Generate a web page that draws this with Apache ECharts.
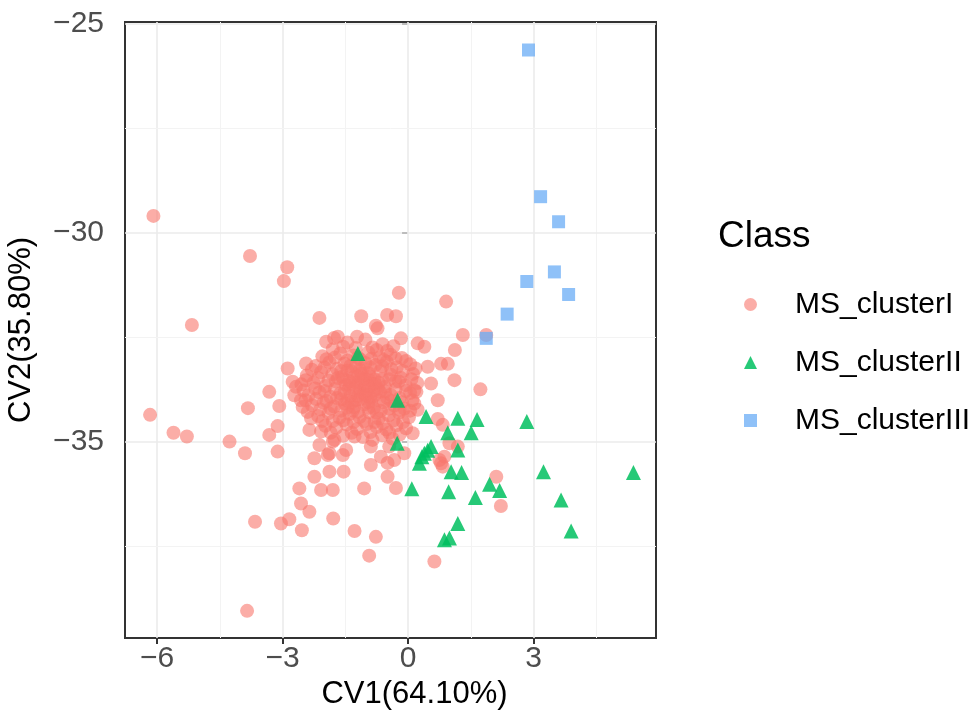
<!DOCTYPE html>
<html>
<head>
<meta charset="utf-8">
<script src="https://cdn.jsdelivr.net/npm/echarts@6/dist/echarts.min.js"></script>
<style>
html,body{margin:0;padding:0;background:#fff;}
#chart{width:977px;height:717px;}
</style>
</head>
<body>
<div id="chart"></div>
<script>
// ---- data ----
const seriesNames = ['MS_clusterI', 'MS_clusterII', 'MS_clusterIII'];
const xTicks = [-6, -3, 0, 3];
const yTicks = [-35, -30, -25];
const xMajorGrid = [-6, -3, 0, 3];
const xMinorGrid = [-4.5, -1.5, 1.5, 4.5];
const yMajorGrid = [-35, -30, -25];
const yMinorGrid = [-37.5, -32.5, -27.5];

// MS_clusterI: scattered points around the dense core
const clusterIOuter = [
  [-6.09,-29.59],[-3.78,-30.55],[-2.89,-30.82],[-2.97,-31.15],[-0.22,-31.43],[-5.17,-32.20],
  [-2.12,-32.03],[-1.12,-31.99],[-0.50,-31.96],[-0.29,-31.99],[-0.77,-32.22],[0.91,-31.64],
  [1.31,-32.44],[1.87,-32.44],[1.12,-32.80],[0.79,-33.13],[0.95,-33.13],[1.11,-33.52],
  [1.73,-33.74],[0.71,-34.00],[2.11,-35.83],[2.22,-36.53],[0.63,-37.86],[0.83,-34.59],
  [0.75,-35.43],[1.19,-35.11],[-0.29,-36.10],[-0.49,-35.83],[0.79,-35.51],[0.87,-35.35],
  [0.71,-34.45],[0.83,-35.59],[0.99,-35.03],
  [-6.17,-34.35],[-5.61,-34.78],[-5.29,-34.87],[-4.27,-34.99],[-3.90,-35.27],[-3.83,-34.19],
  [-3.32,-33.80],[-3.08,-34.14],[-3.12,-34.62],[-3.32,-34.83],[-3.12,-35.23],[-2.88,-33.24],
  [-2.68,-33.68],[-2.56,-34.00],[-2.36,-34.71],[-2.12,-35.07],[-2.24,-35.39],[-1.88,-35.71],
  [-1.54,-35.71],[-2.24,-35.83],[-2.60,-36.11],[-2.08,-36.15],[-1.80,-36.15],[-1.05,-36.11],
  [-0.89,-35.55],[-2.56,-36.47],[-2.36,-36.67],[-3.66,-36.91],[-3.04,-36.95],[-2.84,-36.85],
  [-2.54,-37.11],[-1.79,-36.83],[-1.28,-37.13],[-0.77,-37.27],[-0.93,-37.72],[-3.85,-39.04],
  [-1.68,-32.48],[-1.96,-32.60],[-1.22,-32.48],[-2.44,-33.12],[0.39,-32.72],[0.23,-32.64],
  [-0.17,-32.52],[-1.88,-35.27],[-1.56,-35.31],[-1.80,-34.99],[-1.48,-35.19],[-1.77,-32.51],
  [-0.73,-32.28],[-2.76,-33.56],[-2.72,-33.88],[-2.52,-34.16],[-2.32,-34.43],[-2.08,-34.75],
  [-1.76,-34.95],[-1.92,-35.31],[-1.28,-34.87],[-0.89,-35.11],[-0.65,-35.35],[-0.33,-35.43],
  [0.47,-33.20],[0.55,-33.60],[0.15,-33.76],[0.23,-34.23],[0.11,-34.79],[-0.09,-35.27],
  [-0.45,-35.11],[-0.49,-35.50]
];
// MS_clusterI: dense core
const clusterICore = [
  [-1.45,-32.62],[-1.02,-32.55],[-0.61,-32.66],[-0.35,-32.71],[-1.80,-32.78],[-0.85,-32.74],
  [-2.05,-32.95],[-1.62,-32.88],[-1.31,-32.93],[-0.95,-32.86],[-0.68,-32.97],[-0.42,-32.91],
  [-0.15,-32.99],[-1.15,-33.02],
  [-2.21,-33.18],[-1.88,-33.09],[-1.52,-33.12],[-1.25,-33.20],[-1.02,-33.11],[-0.78,-33.16],
  [-0.51,-33.08],[-0.27,-33.21],[0.05,-33.14],[-1.70,-33.25],
  [-2.42,-33.41],[-2.08,-33.33],[-1.81,-33.38],[-1.58,-33.44],[-1.36,-33.31],[-1.12,-33.36],
  [-0.91,-33.43],[-0.66,-33.30],[-0.41,-33.39],[-0.18,-33.46],[0.12,-33.37],[-1.45,-33.29],
  [-0.80,-33.50],
  [-2.55,-33.62],[-2.26,-33.58],[-1.97,-33.66],[-1.73,-33.55],[-1.49,-33.63],[-1.26,-33.57],
  [-1.03,-33.66],[-0.79,-33.60],[-0.55,-33.68],[-0.30,-33.56],[-0.06,-33.64],[0.22,-33.59],
  [-1.15,-33.75],[-0.92,-33.52],
  [-2.38,-33.88],[-2.12,-33.81],[-1.86,-33.92],[-1.62,-33.84],[-1.38,-33.90],[-1.14,-33.82],
  [-0.90,-33.93],[-0.67,-33.80],[-0.42,-33.87],[-0.20,-33.95],[0.05,-33.83],[-1.25,-34.00],
  [-2.30,-34.12],[-2.02,-34.06],[-1.77,-34.15],[-1.51,-34.08],[-1.29,-34.17],[-1.05,-34.10],
  [-0.82,-34.19],[-0.58,-34.05],[-0.33,-34.13],[-0.09,-34.20],[0.15,-34.08],
  [-2.15,-34.38],[-1.90,-34.31],[-1.64,-34.42],[-1.40,-34.33],[-1.16,-34.40],[-0.93,-34.29],
  [-0.70,-34.44],[-0.46,-34.36],[-0.22,-34.30],[0.02,-34.41],
  [-1.98,-34.61],[-1.72,-34.66],[-1.47,-34.58],[-1.22,-34.69],[-0.99,-34.57],[-0.75,-34.64],
  [-0.52,-34.70],[-0.28,-34.60],[-0.05,-34.67],
  [-1.55,-34.85],[-1.08,-34.88],[-0.62,-34.84],[-0.37,-34.92],[-0.85,-34.95],
  [-1.30,-33.45],[-0.98,-33.78],[-1.18,-33.58],[-0.72,-33.72],[-1.42,-33.72],[-1.60,-33.98],
  [-0.50,-33.95],[-0.88,-34.02],[-1.08,-33.25],[-1.32,-34.25],[-1.20,-33.90],[-0.62,-33.50],
  [-1.55,-33.50],[-0.95,-33.35],[-1.35,-34.05],[-0.75,-34.30],
  [-1.25,-32.75],[-0.75,-32.80],[-0.50,-32.82],[-1.55,-32.72],
  [-1.95,-33.02],[-1.75,-32.98],[-1.45,-33.05],[-1.20,-32.98],[-0.88,-33.01],[-0.58,-33.04],
  [-0.30,-33.00],[-0.05,-33.06],
  [-2.30,-33.27],[-2.00,-33.22],[-1.60,-33.30],[-1.38,-33.18],[-1.15,-33.28],[-0.90,-33.22],
  [-0.62,-33.19],[-0.40,-33.26],[-0.12,-33.30],[0.18,-33.24],
  [-2.45,-33.52],[-2.15,-33.47],[-1.90,-33.53],[-1.68,-33.47],[-1.40,-33.55],[-1.05,-33.48],
  [-0.70,-33.58],[-0.45,-33.50],[-0.22,-33.55],[0.08,-33.50],[-1.20,-33.42],[-0.85,-33.62],
  [-2.50,-33.77],[-2.22,-33.72],[-2.00,-33.78],[-1.75,-33.73],[-1.52,-33.80],[-1.30,-33.74],
  [-1.05,-33.85],[-0.82,-33.77],[-0.55,-33.80],[-0.30,-33.74],[-0.05,-33.78],[0.20,-33.80],
  [-1.40,-33.62],[-0.95,-33.68],[-1.10,-33.52],
  [-2.45,-34.00],[-2.20,-33.97],[-1.95,-34.02],[-1.70,-33.95],[-1.45,-34.02],[-1.15,-33.98],
  [-0.95,-34.05],[-0.70,-34.00],[-0.40,-34.02],[-0.15,-34.05],[0.10,-34.00],[-1.00,-33.88],
  [-0.80,-33.88],
  [-2.40,-34.28],[-2.10,-34.22],[-1.85,-34.20],[-1.60,-34.25],[-1.45,-34.18],[-1.20,-34.28],
  [-0.95,-34.18],[-0.65,-34.25],[-0.45,-34.20],[-0.20,-34.23],[0.05,-34.25],
  [-2.05,-34.50],[-1.80,-34.50],[-1.55,-34.48],[-1.30,-34.52],[-1.05,-34.50],[-0.80,-34.52],
  [-0.60,-34.55],[-0.35,-34.48],[-0.12,-34.52],
  [-1.85,-34.78],[-1.35,-34.78],[-0.90,-34.76],[-0.45,-34.78],[-0.20,-34.82]
];
const clusterII = [
  [0.43,-34.39],[1.19,-34.43],[1.65,-34.46],[2.84,-34.51],[1.51,-34.78],[0.95,-34.78],
  [-0.26,-35.03],[0.39,-35.27],[0.55,-35.11],[0.27,-35.51],[1.19,-35.19],[1.03,-35.71],
  [1.28,-35.73],[3.24,-35.71],[5.39,-35.73],[0.09,-36.12],[0.97,-36.19],[1.61,-36.33],
  [1.95,-36.01],[2.19,-36.16],[3.66,-36.39],[3.90,-37.13],[1.19,-36.95],[0.99,-37.30],
  [0.87,-37.34],[-1.20,-32.88],[-0.25,-34.00],[0.47,-35.20],[0.33,-35.35]
];
const clusterIII = [
  [2.88,-25.62],[3.17,-29.13],[3.60,-29.73],[3.50,-30.93],[2.84,-31.16],[3.84,-31.47],
  [2.37,-31.94],[1.87,-32.52]
];

// ---- chart ----
const FONT = 'Liberation Sans, Arial, sans-serif';
const minus = v => String(v).replace('-', '\u2212');
const clusterI = clusterICore.concat(clusterIOuter);

const gridLines = [];
xMajorGrid.forEach(v => gridLines.push({xAxis: v, lineStyle: {color: '#EBEBEB', width: 1.6, type: 'solid'}}));
xMinorGrid.forEach(v => gridLines.push({xAxis: v, lineStyle: {color: '#F3F3F3', width: 1, type: 'solid'}}));
yMajorGrid.forEach(v => gridLines.push({yAxis: v, lineStyle: {color: '#EBEBEB', width: 1.6, type: 'solid'}}));
yMinorGrid.forEach(v => gridLines.push({yAxis: v, lineStyle: {color: '#F3F3F3', width: 1, type: 'solid'}}));

const chart = echarts.init(document.getElementById('chart'), null, {renderer: 'canvas'});
chart.setOption({
  animation: false,
  backgroundColor: '#fff',
  textStyle: {fontFamily: FONT},
  title: {
    text: 'Class', left: 713, top: 213,
    textStyle: {fontSize: 37, fontWeight: 'normal', color: '#000', fontFamily: FONT}
  },
  legend: {
    data: seriesNames,
    orient: 'vertical',
    left: 739, top: 284,
    itemWidth: 13, itemHeight: 13,
    itemGap: 27,
    textStyle: {fontSize: 30, color: '#000', fontFamily: FONT, padding: [0, 0, 0, 33], lineHeight: 31}
  },
  grid: {
    left: 125, top: 22, right: 321, bottom: 79,
    outerBoundsMode: 'none', containLabel: false,
    show: true, borderColor: '#333', borderWidth: 2, backgroundColor: 'transparent'
  },
  xAxis: {
    type: 'value', min: -6.77, max: 5.93,
    name: 'CV1(64.10%)', nameLocation: 'middle', nameGap: 35,
    nameTextStyle: {fontSize: 31, color: '#000', fontFamily: FONT, padding: [0, 0, 0, 48]},
    axisLine: {show: false},
    axisTick: {show: true, length: 6, inside: false, customValues: xTicks, lineStyle: {color: '#333', width: 2}},
    axisLabel: {customValues: xTicks, formatter: minus, fontSize: 30, color: '#4D4D4D', margin: 6, fontFamily: FONT},
    splitLine: {show: false}
  },
  yAxis: {
    type: 'value', min: -39.69, max: -24.95,
    name: 'CV2(35.80%)', nameLocation: 'middle', nameGap: 88, nameRotate: 90,
    nameTextStyle: {fontSize: 31, color: '#000', fontFamily: FONT},
    axisLine: {show: false},
    axisTick: {show: true, length: 6, inside: false, customValues: yTicks, lineStyle: {color: '#333', width: 2}},
    axisLabel: {customValues: yTicks, formatter: minus, fontSize: 30, color: '#4D4D4D', margin: 21, fontFamily: FONT},
    splitLine: {show: false}
  },
  series: [
    {
      name: 'gridlines', type: 'scatter', data: [], zlevel: 0, z: 0, silent: true,
      markLine: {silent: true, symbol: ['none', 'none'], label: {show: false}, animation: false, data: gridLines}
    },
    {
      name: seriesNames[0], type: 'scatter', data: clusterI, symbol: 'circle', symbolSize: 14,
      itemStyle: {color: '#F8766D', opacity: 0.6}, zlevel: 1, z: 2
    },
    {
      name: seriesNames[1], type: 'scatter', data: clusterII, symbol: 'triangle', symbolSize: 15,
      itemStyle: {color: '#00BF5F', opacity: 0.85}, zlevel: 1, z: 3
    },
    {
      name: seriesNames[2], type: 'scatter', data: clusterIII, symbol: 'rect', symbolSize: 13,
      itemStyle: {color: '#6AACF5', opacity: 0.75}, zlevel: 1, z: 4
    }
  ]
});
</script>
</body>
</html>
